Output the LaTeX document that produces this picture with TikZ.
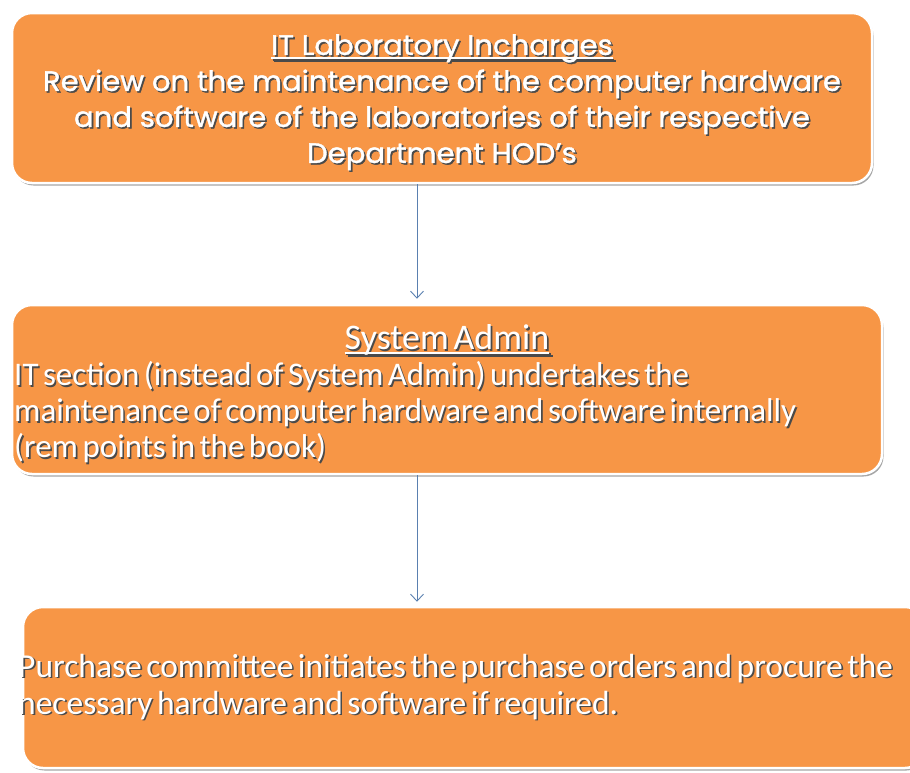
\documentclass[tikz,border=0pt]{standalone}
\usepackage{fontspec}
\setmainfont{Carlito}[WordSpace=0.6]
\newfontfamily\geofont{Poppins}[FakeBold=1.3,FakeStretch=1.04]
\usetikzlibrary{arrows.meta,shadows,calc}

\definecolor{boxorange}{HTML}{F79646}
\definecolor{txtshadow}{HTML}{4A4A4A}
\definecolor{linkblue}{HTML}{5A80B0}

% white text with a dark drop shadow, one line at a time
\newcommand\shd[1]{\rlap{\kern1.6pt\raisebox{-1.6pt}{\color{txtshadow}#1}}#1}
% heavy underline that carries its own shadow
\newcommand\uln[1]{\setbox0\hbox{#1}%
  \rlap{\kern1.6pt\color{txtshadow}\rule[-5.6pt]{\wd0}{2pt}}%
  \rlap{\rule[-4pt]{\wd0}{2pt}}\box0}

\tikzset{
  flowbox/.style={rounded corners=20pt, fill=boxorange, draw=white,
    line width=2.5pt, inner sep=0pt,
    drop shadow={shadow xshift=1.5pt, shadow yshift=-2.5pt,
      fill=black, opacity=0.35}},
  boxtext/.style={text=white, inner sep=0pt},
  link/.style={draw=linkblue, line width=0.9pt,
    -{Straight Barb[length=7pt,width=13pt,line width=0.9pt]}},
}

\begin{document}
\begin{tikzpicture}[x=1pt,y=-1pt]
\useasboundingbox (0,0) rectangle (910,772);

% the three steps
\node[flowbox, minimum width=860pt, minimum height=170pt] (b1) at (442,98) {};
\node[flowbox, minimum width=870pt, minimum height=169pt] (b2) at (447,389.5) {};
\node[flowbox, minimum width=902pt, minimum height=161pt] (b3) at (474,687.5) {};

% step 1
\node[boxtext, align=center, font=\geofont\fontsize{28}{36}\selectfont]
  (t1) at (442,103) {\shd{\uln{IT Laboratory Incharges}}\\
  \shd{Review on the maintenance of the computer hardware}\\
  \shd{and software of the laboratories of their respective}\\
  \shd{Department HOD’s}};

% step 2
\node[boxtext, font=\fontsize{36}{36}\selectfont] (h2) at (447,341)
  {\shd{\uln{System Admin}}};
\node[boxtext, anchor=west, align=left, font=\fontsize{33}{36}\selectfont]
  (t2) at (14,413) {\shd{IT section (instead of System Admin) undertakes the}\\
  \shd{maintenance of computer hardware and software internally}\\
  \shd{(rem points in the book)}};

% step 3
\node[boxtext, anchor=west, align=left, font=\fontsize{33.5}{37}\selectfont]
  (t3) at (18,687.5) {\shd{Purchase committee initiates the purchase orders and procure the}\\
  \shd{necessary hardware and software if required.}};

% connectors
\coordinate (ax) at (417,0);
\draw[link] (b1.south -| ax) -- ([yshift=5pt]b2.north -| ax);
\draw[link] (b2.south -| ax) -- ([yshift=4pt]b3.north -| ax);
\end{tikzpicture}
\end{document}
